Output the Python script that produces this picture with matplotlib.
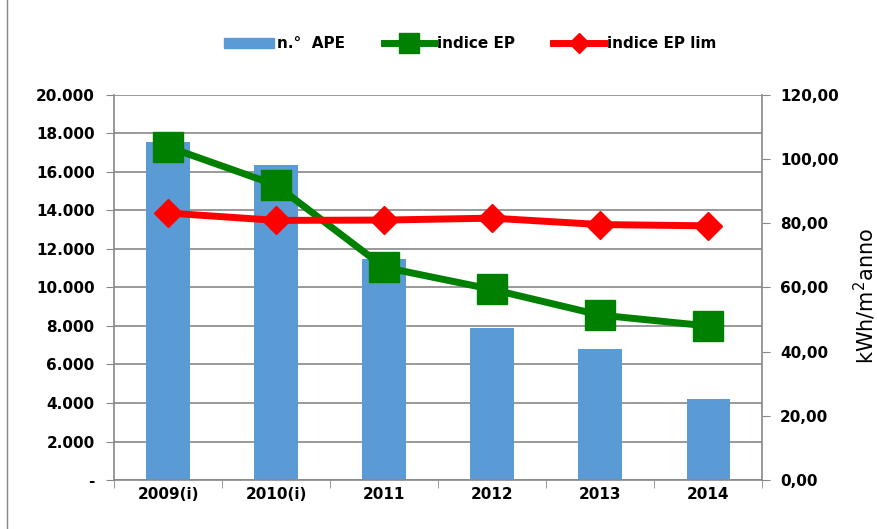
import matplotlib as mpl
import matplotlib.pyplot as plt
import numpy as np
from matplotlib.lines import Line2D

# data
anni = ['2009(i)', '2010(i)', '2011', '2012', '2013', '2014']
n_ape = [17550, 16350, 11480, 7890, 6800, 4210]
indice_ep = [103.8, 91.9, 66.3, 59.4, 51.4, 48.0]
indice_ep_lim = [83.2, 80.9, 81.0, 81.6, 79.6, 79.2]

left_ticks = list(range(0, 20001, 2000))
right_ticks = list(range(0, 121, 20))

plt.rcParams.update({'font.family': ['DejaVu Sans'], 'font.size': 11})

def fmt_left(v):
    return '-' if v == 0 else f'{v:,.0f}'.replace(',', '.')

def fmt_right(v):
    return f'{v:.2f}'.replace('.', ',')

fig = plt.figure(figsize=(8.77, 5.29), dpi=100)
ax = fig.add_axes([0.130, 0.0926, 0.739, 0.728])
x = np.arange(len(anni))

ax.bar(x, n_ape, width=0.4, color='#5b9bd5', zorder=2)
ax.set_xlim(-0.5, len(anni) - 0.5)
ax.set_ylim(0, 20000)
ax.set_yticks(left_ticks)
ax.set_yticklabels([fmt_left(v) for v in left_ticks], fontweight='bold')
ax.grid(axis='y', color='#888888', linewidth=1.2, zorder=0)
ax.set_xticks(x)
ax.set_xticklabels(anni, fontweight='bold')
ax.set_xticks(np.arange(-0.5, len(anni)), minor=True)
ax.tick_params(axis='x', which='major', length=0, pad=5)
ax.tick_params(axis='x', which='minor', length=6, color='#888888')
ax.tick_params(axis='y', length=6, color='#888888', pad=8)
for s in ['top', 'right']:
    ax.spines[s].set_visible(False)
for s in ['left', 'bottom']:
    ax.spines[s].set_color('#888888')
    ax.spines[s].set_linewidth(1.2)

ax2 = ax.twinx()
ax2.plot(x, indice_ep, color='#008000', linewidth=5, marker='s', markersize=21,
         solid_capstyle='round', zorder=3)
ax2.plot(x, indice_ep_lim, color='#ff0000', linewidth=5, marker='D', markersize=14,
         solid_capstyle='round', zorder=4)
ax2.set_ylim(0, 120)
ax2.set_yticks(right_ticks)
ax2.set_yticklabels([fmt_right(v) for v in right_ticks], fontweight='bold')
ax2.tick_params(axis='y', length=6, color='#888888', pad=7)
for s in ['top', 'left', 'bottom']:
    ax2.spines[s].set_visible(False)
ax2.spines['right'].set_color('#888888')
ax2.spines['right'].set_linewidth(1.2)
fig.text(0.986, 0.44, 'kWh/m$^2$anno', rotation=90, ha='center', va='center',
         fontsize=15)

handles = [
    mpl.patches.Patch(color='#5b9bd5'),
    Line2D([], [], color='#008000', linewidth=5, marker='s', markersize=14),
    Line2D([], [], color='#ff0000', linewidth=5, marker='D', markersize=10),
]
fig.legend(handles, ['n.°  APE', 'indice EP', 'indice EP lim'], loc='center',
           bbox_to_anchor=(0.536, 0.917), ncol=3, frameon=False,
           handlelength=3.3, handletextpad=0.2, columnspacing=2.5,
           prop={'weight': 'bold', 'size': 11})

fig.add_artist(Line2D([0.008, 0.008], [0.0, 1.0], color='#888888', linewidth=1))

fig.savefig('out.png', dpi=100)
